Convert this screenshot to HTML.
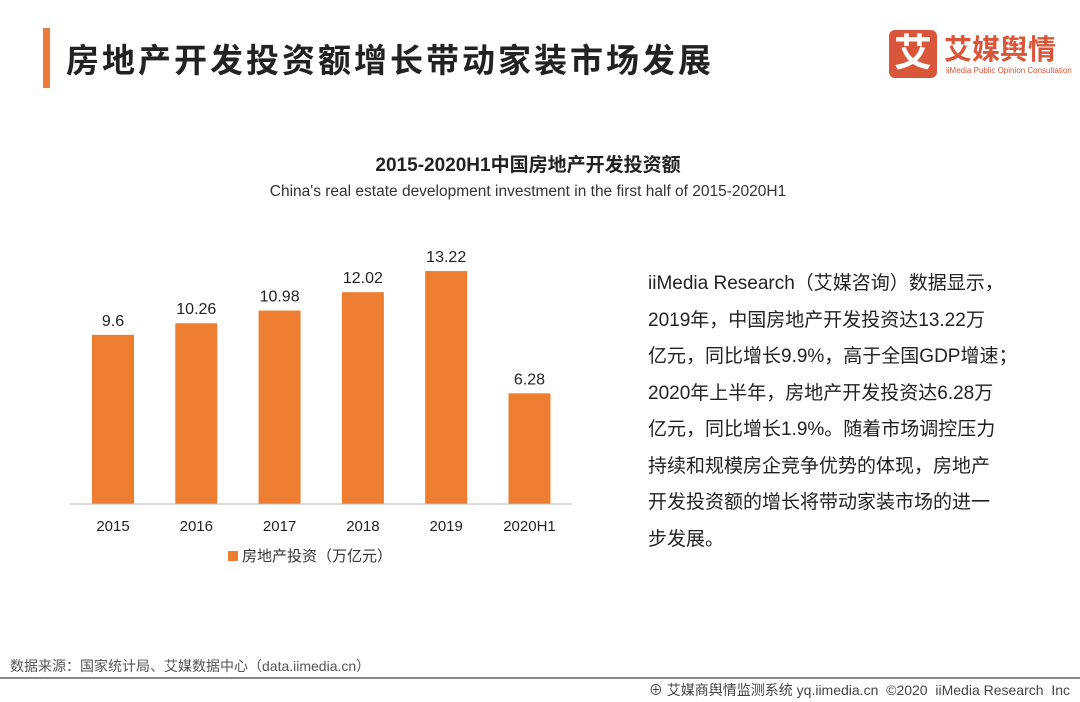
<!DOCTYPE html>
<html><head><meta charset="utf-8"><style>
body{margin:0;width:1080px;height:702px;background:#fff;position:relative;overflow:hidden;font-family:"Liberation Sans","Noto Sans CJK SC",sans-serif;}
.abs{position:absolute;}
</style></head><body>
<div class="abs" style="left:43px;top:28px;width:7px;height:60px;background:#ee7a3b"></div>
<div class="abs" style="left:66px;top:34px;font-size:33px;font-weight:bold;color:#222;letter-spacing:3px">房地产开发投资额增长带动家装市场发展</div>
<div class="abs" style="left:889px;top:30px;width:48px;height:48px;background:#d9563a;border-radius:6px;color:#fff;font-size:38px;font-weight:bold;text-align:center;line-height:48px">艾</div>
<div class="abs" style="left:944px;top:28px;font-size:28px;color:#d9563a;font-weight:bold">艾媒舆情</div>
<div class="abs" style="left:946px;top:66px;font-size:8px;color:#d9563a">iiMedia Public Opinion Consultation</div>
<div class="abs" style="left:0;width:1056px;top:150px;text-align:center;font-size:19px;font-weight:bold;color:#222">2015-2020H1中国房地产开发投资额</div>
<div class="abs" style="left:0;width:1056px;top:183px;text-align:center;font-size:15.5px;color:#333">China's real estate development investment in the first half of 2015-2020H1</div>
<svg class="abs" style="left:0;top:0" width="1080" height="702">
<g id="g"></g></svg>
<div class="abs" style="left:648px;top:266px;width:420px;font-size:19px;line-height:36.5px;color:#222;white-space:nowrap">iiMedia Research（艾媒咨询）数据显示，<br>2019年，中国房地产开发投资达13.22万<br>亿元，同比增长9.9%，高于全国GDP增速；<br>2020年上半年，房地产开发投资达6.28万<br>亿元，同比增长1.9%。随着市场调控压力<br>持续和规模房企竞争优势的体现，房地产<br>开发投资额的增长将带动家装市场的进一<br>步发展。</div>
<div class="abs" style="left:10px;top:656px;font-size:14px;color:#555">数据来源：国家统计局、艾媒数据中心（data.iimedia.cn）</div>
<div class="abs" style="left:0;top:677px;width:1080px;height:2px;background:#888"></div>
<div class="abs" style="right:10px;top:680px;font-size:14px;color:#444">⊕ 艾媒商舆情监测系统 yq.iimedia.cn &nbsp;©2020 &nbsp;iiMedia Research &nbsp;Inc</div>
<script>
const categories=["2015","2016","2017","2018","2019","2020H1"];
const values=[9.6,10.26,10.98,12.02,13.22,6.28];
const labels=["9.6","10.26","10.98","12.02","13.22","6.28"];
const g=document.getElementById('g');const NS='http://www.w3.org/2000/svg';
const base=504,scale=17.62,x0=113,step=83.3,bw=42;
const y=v=>base-v*scale, x=i=>x0+i*step;
function mk(t,a){const e=document.createElementNS(NS,t);for(const k in a)e.setAttribute(k,a[k]);g.appendChild(e);return e;}
values.forEach((v,i)=>{
 const r=mk('rect',{x:x(i)-bw/2,y:y(v),width:bw,height:v*scale,fill:'#ed7d31'});
 
 
 const t=mk('text',{x:x(i),y:y(v)-9,'text-anchor':'middle','font-size':16,fill:'#222','font-family':'Liberation Sans'});t.textContent=labels[i];
 
 
 const c=mk('text',{x:x(i),y:531,'text-anchor':'middle','font-size':15,fill:'#222','font-family':'Liberation Sans'});c.textContent=categories[i];
 
 
});
const ax=mk('line',{x1:70,x2:572,y1:base,y2:base,stroke:'#bbb','stroke-width':1});


const lg=mk('rect',{x:228,y:551,width:10,height:10,fill:'#ed7d31'});


const lt=mk('text',{x:242,y:561,'font-size':15,fill:'#333','font-family':'Liberation Sans, Noto Sans CJK SC, sans-serif'});lt.textContent='房地产投资（万亿元）';


</script>
</body></html>
